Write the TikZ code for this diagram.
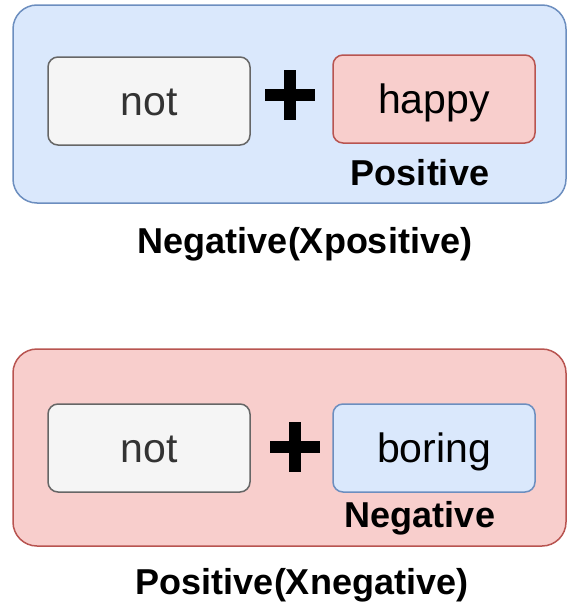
\documentclass[tikz,border=0pt]{standalone}
\usepackage{fontspec}
\setmainfont{Liberation Sans}
\definecolor{bluefill}{HTML}{DAE8FC}
\definecolor{bluestroke}{HTML}{6C8EBF}
\definecolor{redfill}{HTML}{F8CECC}
\definecolor{redstroke}{HTML}{B85450}
\definecolor{greyfill}{HTML}{F5F5F5}
\definecolor{greystroke}{HTML}{666666}
\definecolor{greytext}{HTML}{333333}
\tikzset{
  outerbox/.style={line width=1.5pt, rounded corners=24pt},
  wordbox/.style={line width=1.5pt, rounded corners=10pt},
  blueshape/.style={fill=bluefill, draw=bluestroke},
  redshape/.style={fill=redfill, draw=redstroke},
  greyshape/.style={fill=greyfill, draw=greystroke},
  wordtext/.style={inner sep=0pt, text height=37pt, text depth=8.7pt,
    font=\fontsize{41}{48}\selectfont},
  labeltext/.style={inner sep=0pt, anchor=base,
    font=\fontsize{36}{42}\selectfont\bfseries},
  plusbar/.style={line width=12pt, black}
}
\begin{document}
\begin{tikzpicture}[x=1pt,y=-1pt]
\useasboundingbox (0,0) rectangle (568,605);
% top group
\draw[outerbox, blueshape] (13,5) rectangle (566,203);
\draw[wordbox, greyshape] (48,57) rectangle (250,145);
\node[wordtext, text=greytext] (t1) at (149,101) {not};
\draw[plusbar] (265,95) -- (315,95);
\draw[plusbar] (290,70) -- (290,120);
\draw[wordbox, redshape] (333,55) rectangle (535,143);
\node[wordtext] (t2) at (434,99) {happy};
\node[labeltext] (t3) at (420,185) {Positive};
\node[labeltext] (t4) at (305,253) {Negative(Xpositive)};
% bottom group
\draw[outerbox, redshape] (13,349) rectangle (566,546);
\draw[wordbox, greyshape] (48,404) rectangle (250,492);
\node[wordtext, text=greytext] (b1) at (149,448) {not};
\draw[plusbar] (270,447) -- (320,447);
\draw[plusbar] (295,422) -- (295,472);
\draw[wordbox, blueshape] (333,404) rectangle (535,492);
\node[wordtext] (b2) at (434,448) {boring};
\node[labeltext] (b3) at (420,527) {Negative};
\node[labeltext] (b4) at (302,594) {Positive(Xnegative)};
\end{tikzpicture}
\end{document}
